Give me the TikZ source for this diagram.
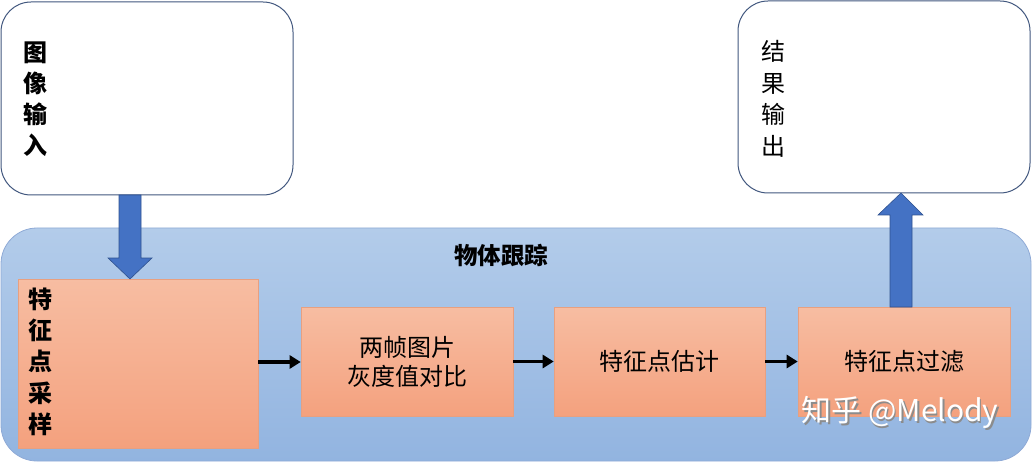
\documentclass[tikz,border=0pt]{standalone}
\usepackage{fontspec}
\setmainfont{Noto Sans CJK SC}
\newfontfamily\cjk{Noto Sans CJK SC}
\usetikzlibrary{arrows.meta}
\definecolor{frameblue}{HTML}{41577E}
\definecolor{arrowblue}{HTML}{4472C4}
\definecolor{arrowedge}{HTML}{2F528F}
\definecolor{bgtop}{HTML}{B3CCEA}
\definecolor{bgbot}{HTML}{92B4E0}
\definecolor{bgedge}{HTML}{8FAAD6}
\definecolor{ortop}{HTML}{F7BDA2}
\definecolor{orbot}{HTML}{F4A17E}
\definecolor{oredge}{HTML}{E8A080}
\tikzset{
  x=1pt,y=-1pt,
  iobox/.style={draw=frameblue,line width=1pt,fill=white,rounded corners=30pt},
  stepbox/.style={draw=oredge,line width=0.6pt,top color=ortop,bottom color=orbot},
  lbl/.style={font=\cjk\fontsize{24}{29}\selectfont,text=black},
  vlbl/.style={font=\cjk\fontsize{24}{31.5}\selectfont,text=black,align=center,anchor=north},
  flow/.style={line width=3.5pt,-{Triangle[length=11pt,width=13pt]},black},
  bigarrow/.style={draw=arrowedge,line width=0.6pt,fill=arrowblue},
}
\begin{document}
\begin{tikzpicture}
\useasboundingbox (0,0) rectangle (1032,462);
% background group
\draw[draw=bgedge,line width=0.8pt,top color=bgtop,bottom color=bgbot,rounded corners=36pt] (1,228) rectangle (1031,461);
\node[font=\cjk\bfseries\fontsize{23.5}{28}\selectfont] (title) at (501,256) {物体跟踪};
% io boxes
\draw[iobox] (1,2) rectangle (293,195);
\node[vlbl,font=\cjk\bfseries\fontsize{24}{31}\selectfont] (in) at (35,38) {图\\像\\输\\入};
\draw[iobox] (738,1) rectangle (1030,193);
\node[vlbl] (out) at (773,37) {结\\果\\输\\出};
% step boxes
\node[stepbox,minimum width=240pt,minimum height=169pt,inner sep=0pt] (s1) at (138,363.5) {};
\node[vlbl,font=\cjk\bfseries\fontsize{24}{31.4}\selectfont] (s1t) at (40,284) {特\\征\\点\\采\\样};
\node[stepbox,minimum width=212pt,minimum height=109pt,inner sep=0pt,lbl,align=center] (s2) at (407,361.5) {两帧图片\\灰度值对比};
\node[stepbox,minimum width=211pt,minimum height=109pt,inner sep=0pt,lbl] (s3) at (659.5,361.5) {特征点估计};
\node[stepbox,minimum width=212pt,minimum height=109pt,inner sep=0pt,lbl] (s4) at (904,361.5) {特征点过滤};
% flow arrows
\draw[flow] (s1.east |- 0,362) -- (s2.west |- 0,362);
\draw[flow] (s2.east) -- (s3.west);
\draw[flow] (s3.east) -- (s4.west);
% big blue arrows
\coordinate (dtip) at (130,279);
\draw[bigarrow] (119,195) -- (141,195) -- (141,258) -- (152,258) -- (dtip) -- (108,258) -- (119,258) -- cycle;
\coordinate (utip) at (901,193);
\draw[bigarrow] (890,307) -- (912,307) -- (912,215) -- (923,215) -- (utip) -- (878,215) -- (890,215) -- cycle;
% watermark
\node[font=\cjk\fontsize{30}{34}\selectfont,text=black!45,anchor=west] (wms) at (799.5,414.5) {知乎 @Melody};
\node[font=\cjk\fontsize{30}{34}\selectfont,text=white,anchor=west] (wm) at (798,412.5) {知乎 @Melody};
\end{tikzpicture}
\end{document}
